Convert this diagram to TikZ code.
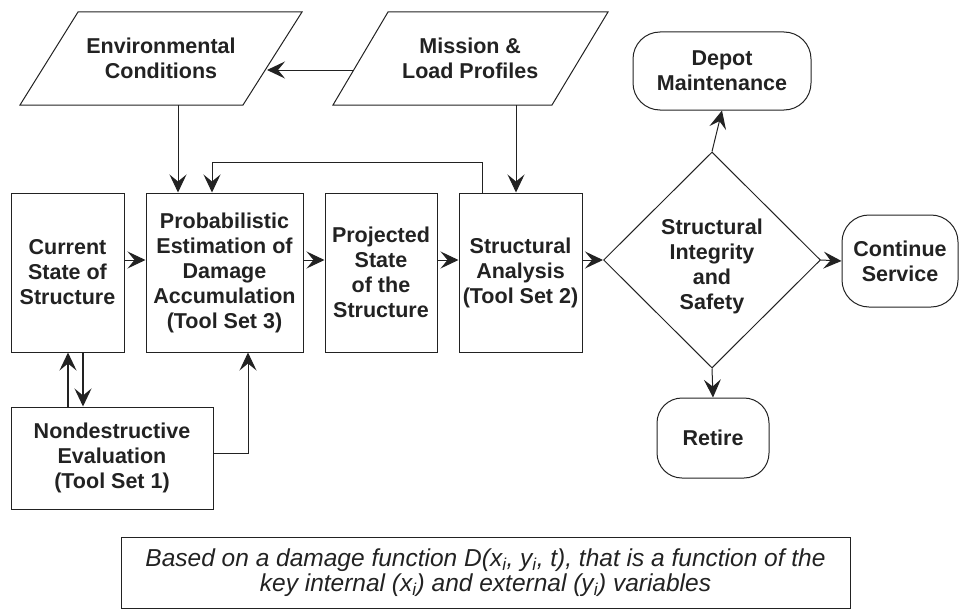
\documentclass[tikz,border=0pt]{standalone}
\usepackage{fontspec}
\setmainfont{Liberation Sans}
\usetikzlibrary{arrows.meta,shapes.geometric}
\definecolor{ink}{HTML}{222222}
\newcommand\lblfont{\bfseries\fontsize{21.5}{25}\selectfont}
\newcommand\notefont{\itshape\fontsize{24.5}{25}\selectfont}
\begin{document}
\begin{tikzpicture}[x=1pt,y=-1pt,
  every node/.style={text=ink,font=\lblfont,align=center,inner sep=0pt},
  box/.style={draw=ink,line width=1pt,rectangle},
  outline/.style={draw=ink,line width=1pt},
  term/.style={draw=ink,line width=1pt,rectangle,rounded corners=27pt},
  arr/.style={draw=ink,line width=1pt,-{Stealth[length=18pt,width=17pt,inset=7pt]}}]
\useasboundingbox (0,0) rectangle (960,610);

% input parallelograms
\draw[outline] (78,12) -- (302,12) -- (243,105) -- (20,105) -- cycle;
\node[minimum width=200pt,minimum height=93pt] (env) at (161,58.5) {Environmental\\Conditions};
\draw[outline] (388,12) -- (608,12) -- (552,105) -- (333,105) -- cycle;
\node[minimum width=200pt,minimum height=93pt] (mis) at (470.25,58.5) {Mission \&\\Load Profiles};
\coordinate (misl) at (354,70);
\coordinate (envr) at (267,70);

% process boxes
\node[box,minimum width=113pt,minimum height=159pt] (cur) at (67.5,272.5) {Current\\State of\\Structure};
\node[box,minimum width=157pt,minimum height=159pt] (prob) at (224.5,272.5) {Probabilistic\\Estimation of\\Damage\\Accumulation\\(Tool Set 3)};
\node[box,minimum width=112pt,minimum height=159pt] (proj) at (381,272.5) {Projected\\State\\of the\\Structure};
\node[box,minimum width=123pt,minimum height=159pt] (sa) at (520.5,272.5) {Structural\\Analysis\\(Tool Set 2)};
\node[box,minimum width=202pt,minimum height=102pt] (nde) at (112,458) {Nondestructive\\Evaluation\\(Tool Set 1)};

% decision
\node[diamond,draw=ink,line width=1pt,minimum width=217pt,minimum height=216pt] (dia) at (712,260) {};
\node at (712,266) (diat) {Structural\\Integrity\\and\\Safety};

% terminals
\node[term,minimum width=178pt,minimum height=78pt] (dep) at (722,71) {Depot\\Maintenance};
\node[term,minimum width=116pt,minimum height=92pt] (cont) at (900,261) {Continue\\Service};
\node[term,rounded corners=25pt,minimum width=112pt,minimum height=80pt] (ret) at (713,438) {Retire};

% note
\node[box,minimum width=729pt,minimum height=71pt,font=\notefont] (note) at (485.5,572.5)
  {Based on a damage function D(x\textsubscript{i}, y\textsubscript{i}, t), that is a function of the\\
   key internal (x\textsubscript{i}) and external (y\textsubscript{i}) variables};

% main row
\draw[arr] (cur.east |- dia.west) -- (prob.west |- dia.west);
\draw[arr] (prob.east |- dia.west) -- (proj.west |- dia.west);
\draw[arr] (proj.east |- dia.west) -- (sa.west |- dia.west);
\draw[arr] (sa.east |- dia.west) -- (dia.west);
\draw[arr] (dia.east) -- (cont.west);
\draw[arr] (dia.north) -- (dep.south);
\draw[arr] (dia.south) -- (ret.north);

% inputs
\draw[arr] (misl) -- (envr);
\coordinate (xe) at (178,0);
\draw[arr] (env.south -| xe) -- (prob.north -| xe);
\coordinate (xm) at (516,0);
\draw[arr] (mis.south -| xm) -- (sa.north -| xm);

% feedback
\coordinate (fb1) at (482,162);
\coordinate (fb2) at (212,162);
\draw[arr] (sa.north -| fb1) -- (fb1) -- (fb2) -- (prob.north -| fb2);

% NDE links
\coordinate (xu) at (68,0);
\coordinate (xd) at (83,0);
\draw[arr,line width=2.2pt] (nde.north -| xu) -- (cur.south -| xu);
\draw[arr,line width=1.6pt] (cur.south -| xd) -- (nde.north -| xd);
\coordinate (nx) at (248,453);
\draw[arr] (nde.east |- nx) -- (nx) -- (prob.south -| nx);
\end{tikzpicture}
\end{document}
